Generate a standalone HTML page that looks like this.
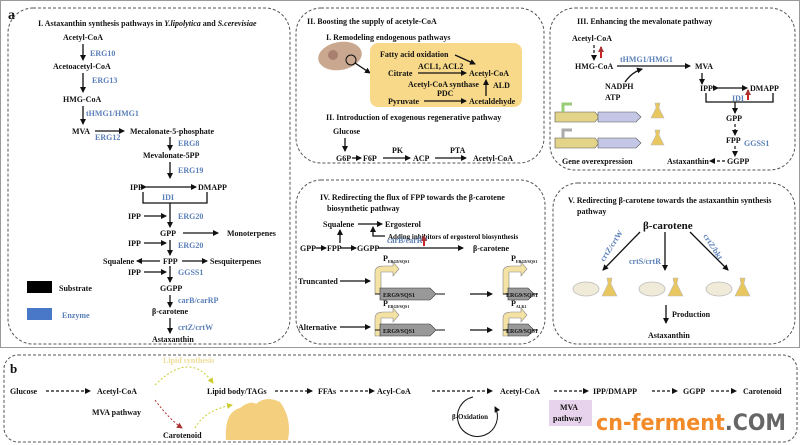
<!DOCTYPE html>
<html><head><style>
body{margin:0;background:#fff}
svg{display:block}
text{font-family:"Liberation Serif",serif;font-weight:bold;font-size:8px;fill:#111}
.e{fill:#5a7fb8}
.d{fill:none;stroke:#555;stroke-width:1;stroke-dasharray:3,2}
.l{stroke:#111;stroke-width:1.3;fill:none}
.b{stroke:#111;stroke-width:1.2;fill:none;stroke-dasharray:3,2}
</style></head><body>
<svg width="800" height="445" viewBox="0 0 800 445" xmlns="http://www.w3.org/2000/svg">
<defs>
<marker id="a" markerWidth="6" markerHeight="6" refX="5" refY="3" orient="auto" markerUnits="userSpaceOnUse"><path d="M0,0L6,3L0,6z" fill="#111"/></marker>
<marker id="r" markerWidth="6" markerHeight="6" refX="5" refY="3" orient="auto" markerUnits="userSpaceOnUse"><path d="M0,0L6,3L0,6z" fill="#a33"/></marker>
<marker id="y" markerWidth="6" markerHeight="6" refX="5" refY="3" orient="auto" markerUnits="userSpaceOnUse"><path d="M0,0L6,3L0,6z" fill="#cc3"/></marker>
</defs>
<rect x="0.5" y="0.5" width="799" height="347" fill="none" stroke="#999"/>
<text x="8" y="19" style="font-size:14px">a</text>
<!-- Panel I -->
<rect class="d" x="8" y="8" width="282" height="336" rx="25"/>
<text x="38" y="26">I. Astaxanthin synthesis pathways in <tspan font-style="italic">Y.lipolytica</tspan> and <tspan font-style="italic">S.cerevisiae</tspan></text>
<text x="63" y="40">Acetyl-CoA</text>
<line class="l" x1="83" y1="44" x2="83" y2="60" marker-end="url(#a)"/><text class="e" x="90" y="56">ERG10</text>
<text x="53" y="69">Acetoacetyl-CoA</text>
<line class="l" x1="83" y1="73" x2="83" y2="92" marker-end="url(#a)"/><text class="e" x="92" y="83">ERG13</text>
<text x="63" y="102">HMG-CoA</text>
<line class="l" x1="83" y1="106" x2="83" y2="124" marker-end="url(#a)"/><text class="e" x="86" y="116">tHMG1/HMG1</text>
<text x="72" y="134">MVA</text>
<line class="l" x1="95" y1="131" x2="124" y2="131" marker-end="url(#a)"/><text class="e" x="95" y="140">ERG12</text>
<text x="130" y="134">Mecalonate-5-phosphate</text>
<line class="l" x1="170" y1="137" x2="170" y2="150" marker-end="url(#a)"/><text class="e" x="178" y="146">ERG8</text>
<text x="143" y="158">Mevalonate-5PP</text>
<line class="l" x1="170" y1="162" x2="170" y2="178" marker-end="url(#a)"/><text class="e" x="178" y="173">ERG19</text>
<text x="130" y="190">IPP</text><text x="198" y="190">DMAPP</text>
<line class="l" x1="146" y1="187" x2="196" y2="187" marker-end="url(#a)" marker-start="url(#a)"/>
<text class="e" x="162" y="200">IDI</text>
<path class="l" d="M143,192V203H207V192"/>
<line class="l" x1="170" y1="203" x2="170" y2="227" marker-end="url(#a)"/>
<text x="128" y="219">IPP</text><line class="l" x1="144" y1="216" x2="166" y2="216" marker-end="url(#a)"/><text class="e" x="178" y="219">ERG20</text>
<text x="160" y="236">GPP</text><line class="l" x1="183" y1="233" x2="218" y2="233" marker-end="url(#a)"/><text x="227" y="236">Monoterpenes</text>
<text x="128" y="246">IPP</text><line class="l" x1="144" y1="243" x2="166" y2="243" marker-end="url(#a)"/><line class="l" x1="170" y1="240" x2="170" y2="255" marker-end="url(#a)"/><text class="e" x="178" y="248">ERG20</text>
<text x="103" y="264">Squalene</text><line class="l" x1="160" y1="261" x2="137" y2="261" marker-end="url(#a)"/><text x="163" y="264">FPP</text><line class="l" x1="182" y1="261" x2="207" y2="261" marker-end="url(#a)"/><text x="210" y="264">Sesquiterpenes</text>
<text x="128" y="275">IPP</text><line class="l" x1="144" y1="272" x2="166" y2="272" marker-end="url(#a)"/><line class="l" x1="170" y1="266" x2="170" y2="282" marker-end="url(#a)"/><text class="e" x="178" y="275">GGSS1</text>
<rect x="27" y="281" width="25" height="12" fill="#000"/><text x="59" y="291">Substrate</text>
<text x="160" y="291">GGPP</text>
<line class="l" x1="170" y1="295" x2="170" y2="307" marker-end="url(#a)"/><text class="e" x="178" y="303">carB/carRP</text>
<rect x="27" y="308" width="25" height="12" fill="#4a78c8"/><text class="e" x="62" y="318">Enzyme</text>
<text x="152" y="314">β-carotene</text>
<line class="l" x1="170" y1="318" x2="170" y2="333" marker-end="url(#a)"/><text class="e" x="178" y="330">crtZ/crtW</text>
<text x="152" y="342">Astaxanthin</text>
<!-- Panel II -->
<rect class="d" x="296" y="8" width="248" height="155" rx="25"/>
<text x="307" y="24">II. Boosting the supply of acetyle-CoA</text>
<text x="326" y="40">I. Remodeling endogenous pathways</text>
<ellipse cx="340" cy="56" rx="22" ry="14" fill="#c9a88f" transform="rotate(-10 340 56)"/>
<circle cx="333" cy="55" r="5" fill="#a98070"/>
<circle cx="351" cy="60" r="5" fill="none" stroke="#111"/>
<line class="l" x1="355" y1="63" x2="370" y2="73" marker-end="url(#a)"/>
<rect x="370" y="43" width="152" height="64" rx="8" fill="#f8d98a"/>
<text x="380" y="57">Fatty acid oxidation</text><line class="l" x1="455" y1="55" x2="475" y2="64" marker-end="url(#a)"/>
<text x="388" y="76">Citrate</text><text x="418" y="69">ACL1, ACL2</text><line class="l" x1="418" y1="73" x2="466" y2="73" marker-end="url(#a)"/><text x="469" y="76">Acetyl-CoA</text>
<text x="408" y="87">Acetyl-CoA synthase</text><line class="l" x1="486" y1="96" x2="486" y2="80" marker-end="url(#a)"/><text x="493" y="88">ALD</text>
<text x="437" y="96">PDC</text><text x="388" y="104">Pyruvate</text><line class="l" x1="424" y1="101" x2="466" y2="101" marker-end="url(#a)"/><text x="469" y="104">Acetaldehyde</text>
<text x="326" y="120">II. Introduction of exogenous regenerative pathway</text>
<text x="333" y="134">Glucose</text><line class="l" x1="345" y1="138" x2="345" y2="151" marker-end="url(#a)"/>
<text x="336" y="161">G6P</text><line class="l" x1="352" y1="158" x2="361" y2="158" marker-end="url(#a)"/><text x="363" y="161">F6P</text>
<text x="392" y="153">PK</text><line class="l" x1="383" y1="158" x2="410" y2="158" marker-end="url(#a)"/><text x="413" y="161">ACP</text>
<text x="450" y="153">PTA</text><line class="l" x1="435" y1="158" x2="466" y2="158" marker-end="url(#a)"/><text x="473" y="161">Acetyl-CoA</text>
<!-- Panel III -->
<rect class="d" x="550" y="8" width="245" height="162" rx="25"/>
<text x="577" y="24">III. Enhancing the mevalonate pathway</text>
<text x="572" y="41">Acetyl-CoA</text>
<line class="b" x1="594" y1="45" x2="594" y2="60" marker-end="url(#a)"/><line x1="601" y1="58" x2="601" y2="47" stroke="#c22" stroke-width="2" marker-end="url(#r)"/>
<text x="575" y="69">HMG-CoA</text><text class="e" x="620" y="62">tHMG1/HMG1</text>
<line class="l" x1="617" y1="66" x2="690" y2="66" marker-end="url(#a)"/>
<path class="l" d="M625,82Q632,72 642,69" marker-end="url(#a)"/>
<text x="605" y="89">NADPH</text><text x="605" y="100">ATP</text>
<text x="695" y="69">MVA</text><line class="l" x1="702" y1="73" x2="702" y2="84" marker-end="url(#a)"/>
<text x="700" y="91">IPP</text><text x="750" y="91">DMAPP</text><line class="l" x1="718" y1="88" x2="747" y2="88" marker-end="url(#a)" marker-start="url(#a)"/>
<path class="l" d="M706,93V102H773V93"/><text class="e" x="732" y="101">IDI</text><line x1="748" y1="100" x2="748" y2="90" stroke="#c22" stroke-width="2" marker-end="url(#r)"/>
<line class="l" x1="735" y1="102" x2="735" y2="113" marker-end="url(#a)"/>
<text x="726" y="121">GPP</text><line class="b" x1="735" y1="124" x2="735" y2="135" marker-end="url(#a)"/>
<text x="726" y="143">FPP</text><text class="e" x="744" y="146">GGSS1</text><line class="b" x1="735" y1="146" x2="735" y2="156" marker-end="url(#a)"/>
<text x="667" y="164">Astaxanthin</text><line class="b" x1="725" y1="161" x2="710" y2="161" marker-end="url(#a)"/><text x="727" y="164">GGPP</text>
<g>
<path d="M555,112H595L599,117L595,122H555z" fill="#e3d48a" stroke="#555" stroke-width=".6"/><path d="M598,112H636L641,117L636,122H598z" fill="#c4c8e6" stroke="#555" stroke-width=".6"/>
<path d="M563,112V104H572" fill="none" stroke="#9c7" stroke-width="3"/>
<path d="M555,138H595L599,143L595,148H555z" fill="#e3d48a" stroke="#555" stroke-width=".6"/><path d="M598,138H636L641,143L636,148H598z" fill="#c4c8e6" stroke="#555" stroke-width=".6"/>
<path d="M563,138V130H572" fill="none" stroke="#aaa" stroke-width="3"/>
<path d="M655,103h5l-1,5 5,10h-13l5,-10z" fill="#e8c760" stroke="#bbb" stroke-width=".6"/>
<path d="M655,130h5l-1,5 5,10h-13l5,-10z" fill="#e8c760" stroke="#bbb" stroke-width=".6"/>
</g>
<text x="562" y="164">Gene overexpression</text>
<!-- Panel IV -->
<rect class="d" x="296" y="180" width="249" height="164" rx="25"/>
<text x="320" y="200">IV. Redirecting the flux of FPP towards the β-carotene</text>
<text x="327" y="211">biosynthetic pathway</text>
<text x="323" y="227">Squalene</text><line class="l" x1="358" y1="224" x2="382" y2="224" marker-end="url(#a)"/><text x="385" y="227">Ergosterol</text>
<path class="l" d="M385,236H373V227" marker-end="url(#a)"/><text x="388" y="239" style="font-size:7px">Adding inhibitors of ergosterol biosynthesis</text>
<line class="l" x1="340" y1="243" x2="340" y2="230" marker-end="url(#a)"/>
<text x="300" y="251">GPP</text><line class="l" x1="316" y1="248" x2="326" y2="248" marker-end="url(#a)"/><text x="327" y="251">FPP</text>
<line class="l" x1="341" y1="248" x2="356" y2="248" marker-end="url(#a)"/><text x="357" y="251">GGPP</text>
<line class="l" x1="378" y1="248" x2="463" y2="248" marker-end="url(#a)"/><text class="e" x="387" y="243">carB/carRP</text>
<line x1="424" y1="246" x2="424" y2="236" stroke="#c22" stroke-width="2" marker-end="url(#r)"/>
<text x="473" y="251">β-carotene</text>
<text x="298" y="284">Truncanted</text><line class="l" x1="340" y1="281" x2="370" y2="281" marker-end="url(#a)"/>
<text x="298" y="330">Alternative</text><line class="l" x1="340" y1="327" x2="370" y2="327" marker-end="url(#a)"/>
<g fill="#f3e2a3" stroke="#888" stroke-width=".6">
<path d="M375,294V272Q375,266 384,266H393V262L399,269L393,276V272H381V294z"/>
<path d="M503,294V272Q503,266 512,266H521V262L527,269L521,276V272H509V294z"/>
<path d="M375,336V318Q375,312 384,312H393V308L399,315L393,322V318H381V336z"/>
<path d="M503,336V318Q503,312 512,312H521V308L527,315L521,322V318H509V336z"/>
</g>
<text x="383" y="261" style="font-size:8px">P<tspan style="font-size:4px" dy="2">ERG9/SQS1</tspan></text>
<text x="511" y="261" style="font-size:8px">P<tspan style="font-size:4px" dy="2">ERG9/SQS1</tspan></text>
<text x="383" y="306" style="font-size:8px">P<tspan style="font-size:4px" dy="2">ERG9/SQS1</tspan></text>
<text x="511" y="306" style="font-size:8px">P<tspan style="font-size:4px" dy="2">ALK1</tspan></text>
<g stroke="#111" stroke-width="1">
<line x1="375" y1="294" x2="445" y2="294"/><line x1="503" y1="294" x2="538" y2="294"/>
<line x1="375" y1="330" x2="445" y2="330"/><line x1="503" y1="330" x2="538" y2="330"/>
</g>
<g fill="#999" stroke="#333" stroke-width=".6">
<path d="M380,288H430L436,294L430,300H380z"/><path d="M508,288H528L534,294L528,300H508z"/>
<path d="M380,324H430L436,330L430,336H380z"/><path d="M508,324H528L534,330L528,336H508z"/>
</g>
<text x="383" y="297" style="font-size:6px">ERG9/SQS1</text><text x="506" y="297" style="font-size:6px">ERG9/SQS1</text>
<text x="383" y="333" style="font-size:6px">ERG9/SQS1</text><text x="506" y="333" style="font-size:6px">ERG9/SQS1</text>
<line class="l" x1="470" y1="294" x2="492" y2="294" marker-end="url(#a)"/>
<line class="l" x1="470" y1="330" x2="492" y2="330" marker-end="url(#a)"/>
<!-- Panel V -->
<rect class="d" x="553" y="183" width="242" height="161" rx="25"/>
<text x="568" y="203">V. Redirecting β-carotene towards the astaxanthin synthesis</text>
<text x="577" y="214">pathway</text>
<text x="643" y="229" style="font-size:11px">β-carotene</text>
<line class="l" x1="640" y1="232" x2="603" y2="270" marker-end="url(#a)"/>
<line class="l" x1="665" y1="232" x2="665" y2="270" marker-end="url(#a)"/>
<line class="l" x1="690" y1="232" x2="728" y2="270" marker-end="url(#a)"/>
<text class="e" x="0" y="0" transform="translate(604,262) rotate(-57)">crtZ/crtW</text>
<text class="e" x="629" y="264">crtS/crtR</text>
<text class="e" x="0" y="0" transform="translate(703,236) rotate(57)">crtZ/bkt</text>
<g fill="#f0ead8" stroke="#bbb" stroke-width=".8">
<ellipse cx="586" cy="289" rx="13" ry="7"/><ellipse cx="652" cy="289" rx="13" ry="7"/><ellipse cx="719" cy="289" rx="13" ry="7"/>
</g>
<g fill="#e8c760" stroke="#bbb" stroke-width=".6">
<path d="M607,278h5l-1,6 6,12h-15l6,-12z"/><path d="M673,278h5l-1,6 6,12h-15l6,-12z"/><path d="M740,278h5l-1,6 6,12h-15l6,-12z"/>
</g>
<line class="l" x1="666" y1="305" x2="666" y2="323" marker-end="url(#a)"/>
<text x="672" y="317">Production</text>
<text x="648" y="338">Astaxanthin</text>
<!-- Panel b -->
<rect class="d" x="4" y="355" width="793" height="87" rx="14"/>
<text x="10" y="373" style="font-size:13px">b</text>
<text x="10" y="394">Glucose</text><line class="b" x1="46" y1="391" x2="90" y2="391" marker-end="url(#a)"/>
<text x="97" y="394">Acetyl-CoA</text>
<text x="163" y="363" style="fill:#eedd99">Lipid synthesis</text>
<path d="M155,385Q190,350 213,383" fill="none" stroke="#cc3" stroke-dasharray="2,2" marker-end="url(#y)"/>
<path d="M155,400Q170,420 182,428" fill="none" stroke="#a33" stroke-dasharray="2,2" marker-end="url(#r)"/>
<path d="M195,428Q205,410 232,405" fill="none" stroke="#cc3" stroke-dasharray="2,2" marker-end="url(#y)"/>
<text x="207" y="394">Lipid body/TAGs</text><line class="b" x1="275" y1="391" x2="312" y2="391" marker-end="url(#a)"/>
<text x="318" y="394">FFAs</text><line class="b" x1="340" y1="391" x2="374" y2="391" marker-end="url(#a)"/>
<text x="377" y="394">Acyl-CoA</text><line class="b" x1="432" y1="391" x2="492" y2="391" marker-end="url(#a)"/>
<text x="500" y="394">Acetyl-CoA</text><line class="b" x1="554" y1="391" x2="588" y2="391" marker-end="url(#a)"/>
<text x="593" y="394">IPP/DMAPP</text><line class="b" x1="652" y1="391" x2="677" y2="391" marker-end="url(#a)"/>
<text x="683" y="394">GGPP</text><line class="b" x1="711" y1="391" x2="736" y2="391" marker-end="url(#a)"/>
<text x="743" y="394">Carotenoid</text>
<text x="92" y="415">MVA pathway</text>
<text x="163" y="438">Carotenoid</text>
<path d="M226,440Q224,412 240,408Q250,400 256,404Q266,395 280,402Q292,418 288,440z" fill="#f3cf7e"/>
<path d="M473,397A20,20 0 1,0 495,407" fill="none" stroke="#111" marker-end="url(#a)"/>
<text x="452" y="419" style="font-size:7px">β-Oxidation</text>
<rect x="549" y="400" width="43" height="26" fill="#e8d3ec"/>
<text x="560" y="410">MVA</text><text x="553" y="421">pathway</text>
<text x="596" y="430" textLength="190" lengthAdjust="spacingAndGlyphs" style="font-family:'DejaVu Sans',sans-serif;font-size:22px;fill:#f28a2a">cn-ferment<tspan style="fill:#666">.COM</tspan></text>
</svg>
</body></html>
